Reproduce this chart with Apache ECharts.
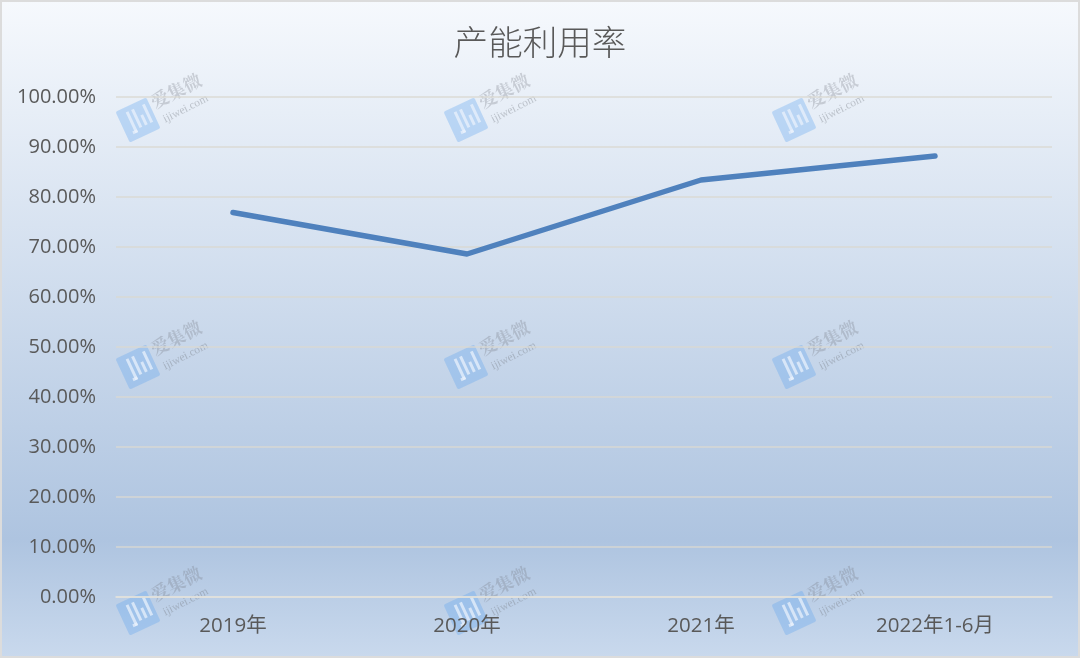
<!DOCTYPE html>
<html><head><meta charset="utf-8">
<style>html,body{margin:0;padding:0;background:#fff}#c{width:1080px;height:658px}</style>
<script src="https://cdn.jsdelivr.net/npm/echarts@6/dist/echarts.min.js"></script></head>
<body><div id="c"></div>
<script>
const categories = ['2019年','2020年','2021年','2022年1-6月'];
const utilization = [76.9, 68.6, 83.4, 88.2];
const titleText = '产能利用率';
const wmX = [117, 445, 773];
const wmY = [67, 314, 560];

function watermark(x, y) {
  const col = 'rgba(95,165,240,0.33)';
  const tc = 'rgba(115,120,130,0.30)';
  const bar = 'rgba(235,242,252,0.72)';
  return {
    type: 'group', x: x, y: y, silent: true, children: [
      { type: 'group', x: 21, y: 53, rotation: 25 * Math.PI / 180, children: [
        { type: 'rect', shape: { x: -17, y: -17, width: 34, height: 34, r: 2 }, style: { fill: col } },
        { type: 'rect', shape: { x: -10, y: 8, width: 5, height: 3 }, style: { fill: bar } },
        { type: 'rect', shape: { x: -8, y: -12, width: 3, height: 23 }, style: { fill: bar } },
        { type: 'rect', shape: { x: -2, y: -12, width: 3, height: 20 }, style: { fill: bar } },
        { type: 'rect', shape: { x: 4, y: -3, width: 3, height: 11 }, style: { fill: bar } },
        { type: 'rect', shape: { x: 10, y: -12, width: 3, height: 20 }, style: { fill: bar } }
      ]},
      { type: 'text', x: 35, y: 36, rotation: 27 * Math.PI / 180,
        style: { text: '爱集微', fill: tc, font: '700 18px "Noto Serif CJK SC","Noto Sans CJK SC"', textVerticalAlign: 'middle' } },
      { type: 'text', x: 47, y: 53, rotation: 27 * Math.PI / 180,
        style: { text: 'ijiwei.com', fill: 'rgba(115,120,130,0.38)', font: '11.5px "Liberation Serif"', textVerticalAlign: 'middle' } }
    ]
  };
}
const marks = [];
wmX.forEach(x => wmY.forEach(y => marks.push(watermark(x, y))));

const chart = echarts.init(document.getElementById('c'), null, { renderer: 'canvas' });
chart.setOption({
  animation: false,
  backgroundColor: new echarts.graphic.LinearGradient(0, 0, 0, 1, [
    { offset: 0, color: '#f6f9fd' },
    { offset: 0.82, color: '#aec4e0' },
    { offset: 1, color: '#c9d9ed' }
  ]),
  title: {
    text: titleText, left: 'center', top: 20,
    textStyle: { fontFamily: '"Noto Sans CJK SC"', fontWeight: 300, fontSize: 34.6, color: '#595959' }
  },
  grid: { left: 116, right: 28, top: 97, bottom: 61 },
  xAxis: {
    type: 'category', data: categories, boundaryGap: true,
    axisLine: { show: true, lineStyle: { color: '#e3e3de', width: 1.5 } },
    axisTick: { show: false },
    axisLabel: { margin: 19, fontSize: 20.5, color: '#595959', fontFamily: '"Open Sans","Noto Sans CJK SC"' }
  },
  yAxis: {
    type: 'value', min: 0, max: 100, interval: 10,
    axisLine: { show: false }, axisTick: { show: false },
    axisLabel: { margin: 20, fontSize: 20, color: '#595959', fontFamily: '"Open Sans"',
      formatter: v => v.toFixed(2) + '%' },
    splitLine: { show: true, lineStyle: { color: 'rgba(218,216,208,0.9)', width: 1.5 } }
  },
  series: [{
    type: 'line', data: utilization, symbol: 'none', smooth: false,
    lineStyle: { color: '#4f81bd', width: 5.5, cap: 'round', join: 'round' }, z: 5
  }],
  graphic: [
    ...marks,
    { type: 'rect', shape: { x: 1, y: 1, width: 1078, height: 656 }, silent: true,
      style: { fill: 'none', stroke: '#dcdcdc', lineWidth: 2 } }
  ]
});
</script></body></html>
